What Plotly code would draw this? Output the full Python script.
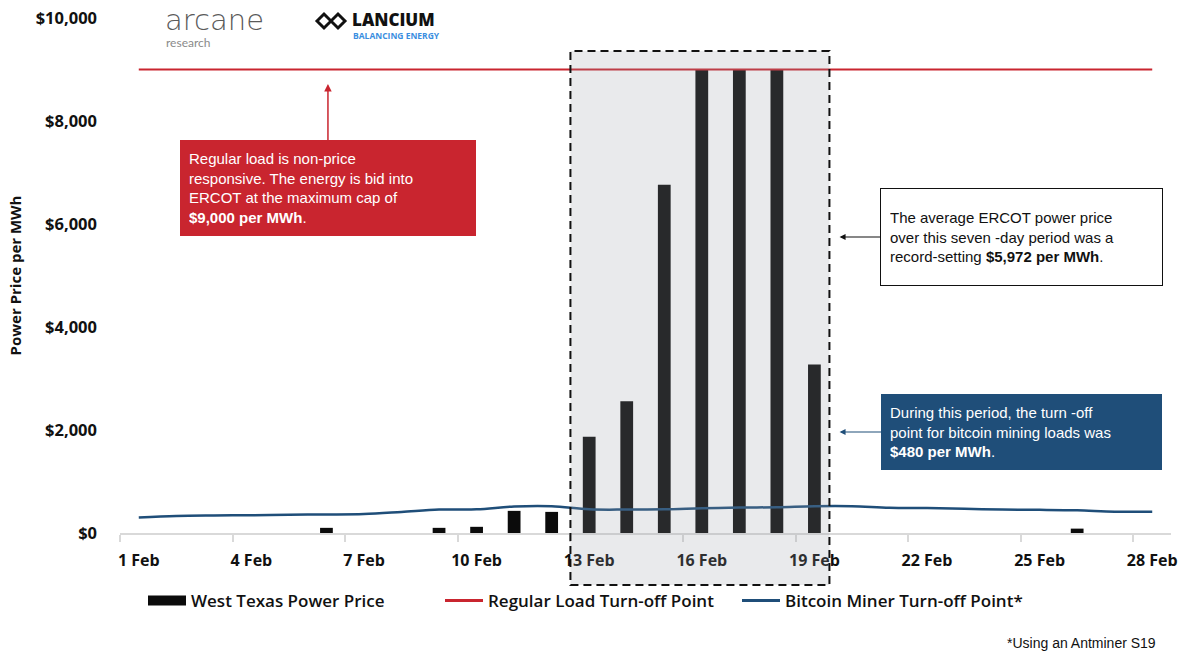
import plotly.graph_objects as go

# ---------------- data ----------------
days = list(range(1, 29))
tick_days = [1, 4, 7, 10, 13, 16, 19, 22, 25, 28]
tick_labels = [f"{d} Feb" for d in tick_days]

bar_days = [6, 9, 10, 11, 12, 13, 14, 15, 16, 17, 18, 19, 26]
west_texas_price = [100, 100, 120, 430, 410, 1870, 2560, 6760, 9000, 9000, 9000, 3270, 85]

regular_load_turnoff = [9000] * 28
bitcoin_turnoff = [300, 330, 340, 345, 355, 360, 370, 410, 455, 460, 515, 520, 460, 455,
                   460, 480, 495, 500, 520, 520, 490, 485, 470, 455, 450, 440, 415, 415]

y_tickvals = [0, 2000, 4000, 6000, 8000, 10000]
y_ticktext = ["$0", "$2,000", "$4,000", "$6,000", "$8,000", "$10,000"]

RED = "#c9252f"
BLUE = "#1f4e79"

W = 1187; H = 654; L = 120; R = 16; T = 18; B = 121
pw = W - L - R; ph = H - T - B
def px(xp): return (xp - L) / pw
def py(yp): return (H - B - yp) / ph

fig = go.Figure()

fig.add_trace(go.Bar(x=bar_days, y=west_texas_price, width=0.34, marker=dict(color="#0b0b0b", line=dict(width=0)),
                     name="West Texas Power Price", showlegend=False))
fig.add_trace(go.Scatter(x=days, y=regular_load_turnoff, mode="lines", line=dict(color=RED, width=2),
                         name="Regular Load Turn-off Point", showlegend=False))
fig.add_trace(go.Scatter(x=days, y=bitcoin_turnoff, mode="lines", line=dict(color=BLUE, width=2.5, shape="spline"),
                         name="Bitcoin Miner Turn-off Point*", showlegend=False))
# legend entries
fig.add_trace(go.Scatter(x=[None], y=[None], mode="lines", line=dict(color="#0b0b0b", width=12),
                         name="West Texas Power Price"))
fig.add_trace(go.Scatter(x=[None], y=[None], mode="lines", line=dict(color=RED, width=3),
                         name="Regular Load Turn-off Point"))
fig.add_trace(go.Scatter(x=[None], y=[None], mode="lines", line=dict(color=BLUE, width=3),
                         name="Bitcoin Miner Turn-off Point*"))

# shaded period
fig.add_shape(type="rect", xref="x", yref="paper", x0=12.5, x1=19.4, y0=-0.101, y1=0.936,
              fillcolor="rgba(149,154,163,0.21)", line=dict(width=0), layer="above")
fig.add_shape(type="rect", xref="x", yref="paper", x0=12.5, x1=19.4, y0=-0.101, y1=0.936,
              fillcolor="rgba(0,0,0,0)", line=dict(color="#111111", width=2, dash="8px,5px"), layer="above")

box_font = dict(family="Liberation Sans, Arial", size=15)

fig.add_annotation(x=6.04, y=8720, xref="x", yref="y", ax=0, ay=104, axref="pixel", ayref="pixel",
                   text="Regular load is non-price<br>responsive. The energy is bid into<br>ERCOT at the maximum cap of<br><b>$9,000 per MWh</b>.",
                   showarrow=True, arrowhead=2, arrowsize=1, arrowwidth=1.5, arrowcolor=RED,
                   bgcolor=RED, bordercolor=RED, borderwidth=0, borderpad=9, width=278, height=78,
                   align="left", valign="middle", font=dict(color="white", **box_font))

fig.add_annotation(x=19.67, y=5748, xref="x", yref="y", ax=181.5, ay=0,
                   text="The average ERCOT power price<br>over this seven -day period was a<br>record-setting <b>$5,972 per MWh</b>.",
                   showarrow=True, arrowhead=2, arrowsize=1, arrowwidth=1.2, arrowcolor="#111111",
                   bgcolor="white", bordercolor="#111111", borderwidth=1, borderpad=9, width=263, height=78,
                   align="left", valign="middle", font=dict(color="#111111", **box_font))

fig.add_annotation(x=19.67, y=1961, xref="x", yref="y", ax=181.5, ay=0,
                   text="During this period, the turn -off<br>point for bitcoin mining loads was<br><b>$480 per MWh</b>.",
                   showarrow=True, arrowhead=2, arrowsize=1, arrowwidth=1.2, arrowcolor=BLUE,
                   bgcolor=BLUE, bordercolor=BLUE, borderwidth=1, borderpad=8, width=263, height=58,
                   align="left", valign="middle", font=dict(color="white", **box_font))

# logos (as text)
fig.add_annotation(x=px(163), y=py(20), xref="paper", yref="paper", text="arcane", showarrow=False,
                   xanchor="left", yanchor="middle", font=dict(family="DejaVu Sans", size=29, color="#5a5a5a", weight=300))
fig.add_annotation(x=px(164), y=py(43), xref="paper", yref="paper", text="research", showarrow=False,
                   xanchor="left", yanchor="middle", font=dict(family="Lato", size=12, color="#8a8a8a"))
fig.add_annotation(x=px(350), y=py(20), xref="paper", yref="paper", text="LANCIUM", showarrow=False,
                   xanchor="left", yanchor="middle", font=dict(family="Open Sans", size=17, color="#111111", weight=800))
fig.add_annotation(x=px(351), y=py(35), xref="paper", yref="paper", text="BALANCING ENERGY", showarrow=False,
                   xanchor="left", yanchor="middle", font=dict(family="Open Sans", size=8.5, color="#3a8ee0", weight=700))
fig.add_shape(type="path", xref="paper", yref="paper", xsizemode="pixel", ysizemode="pixel",
              xanchor=px(316), yanchor=py(32),
              path="M1,11 L8,18 L15,11 L22,18 L29,11 L22,4 L15,11 L8,4 Z",
              line=dict(color="#111111", width=3), fillcolor="rgba(0,0,0,0)")

fig.add_annotation(x=px(1158), y=py(643), xref="paper", yref="paper", text="*Using an Antminer S19",
                   showarrow=False, xanchor="right", yanchor="middle",
                   font=dict(family="Liberation Sans, Arial", size=14, color="#111111"))

fig.update_layout(
    width=W, height=H,
    margin=dict(l=L, r=R, t=T, b=B, autoexpand=False),
    plot_bgcolor="white", paper_bgcolor="white",
    font=dict(family="Open Sans", color="#111111"),
    xaxis=dict(range=[0.5, 28.5], tickmode="array", tickvals=tick_days, ticktext=tick_labels, automargin=False,
               ticks="", showgrid=False, zeroline=False, showline=True, linecolor="#d9d9d9", linewidth=2,
               ticklabelstandoff=12, tickfont=dict(family="Open Sans", size=16, weight=700, color="#111111"),
               minor=dict(tickmode="array", tickvals=[d - 0.5 for d in tick_days], ticks="outside",
                          ticklen=7, tickwidth=2, tickcolor="#d9d9d9", showgrid=False)),
    yaxis=dict(range=[0, 10000], tickmode="array", tickvals=y_tickvals, ticktext=y_ticktext, automargin=False,
               showgrid=False, zeroline=False, showline=False, ticks="", ticklabelstandoff=22,
               tickfont=dict(family="Open Sans", size=16.5, weight=700, color="#111111"),
               title=dict(text="Power Price per MWh", standoff=10,
                          font=dict(family="Open Sans", size=15, weight=700, color="#111111"))),
    legend=dict(orientation="h", x=px(143), y=py(601), xanchor="left", yanchor="middle",
                itemwidth=38, entrywidth=244, entrywidthmode="pixels",
                font=dict(family="Open Sans", size=17, weight=600, color="#111111"),
                bgcolor="rgba(0,0,0,0)", traceorder="normal", itemclick=False),
    showlegend=True,
)

fig.write_html("out.html", config={"displayModeBar": False})

# remove default page margin so the figure sits at the window origin
with open("out.html", "r", encoding="utf-8") as f:
    html = f.read()
html = html.replace("<head>", "<head><style>html,body{margin:0;padding:0;overflow:hidden;}</style>", 1)
with open("out.html", "w", encoding="utf-8") as f:
    f.write(html)
